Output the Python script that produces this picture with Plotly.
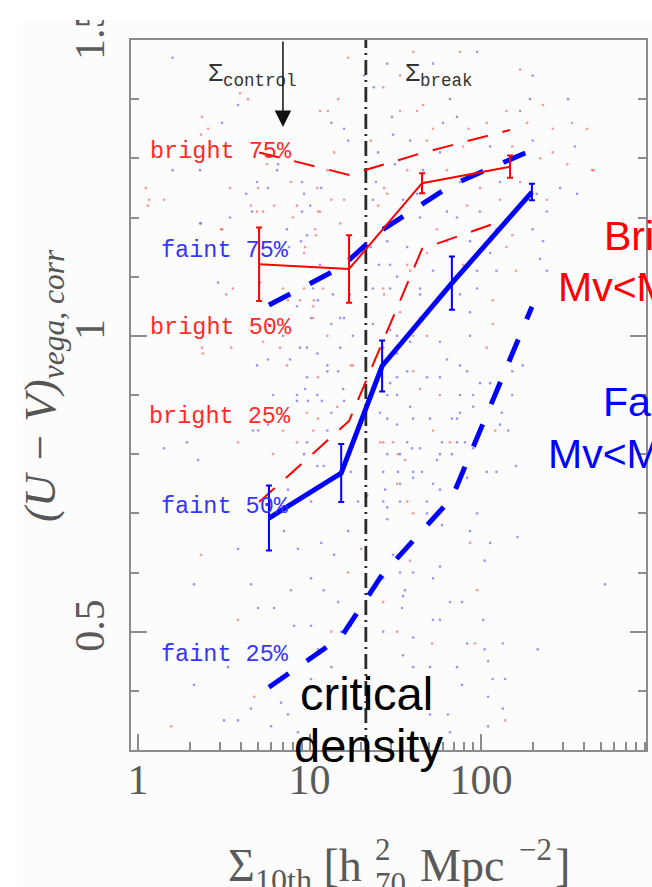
import math
import plotly.graph_objects as go

# ---- median / quartile relations: bright galaxies (red) ----
BRIGHT_SIGMA = [5.08, 17.0, 45.3, 147.6]
BRIGHT_50 = [1.121, 1.113, 1.258, 1.286]
BRIGHT_50_ERR = [0.062, 0.057, 0.017, 0.019]
BRIGHT_75 = [1.310, 1.272, 1.309, 1.348]
BRIGHT_25 = [0.719, 0.856, 1.147, 1.199]

# ---- faint galaxies (blue) ----
FAINT_SIGMA = [5.80, 15.3, 26.5, 67.6, 198.0]
FAINT_50 = [0.692, 0.768, 0.949, 1.089, 1.243]
FAINT_50_ERR = [0.055, 0.049, 0.043, 0.045, 0.014]
FAINT_75 = [1.052, 1.116, 1.179, 1.255, 1.314]
FAINT_25 = [0.406, 0.491, 0.596, 0.726, 1.049]

# characteristic densities
SIGMA_CONTROL = 7.0
SIGMA_CRIT = 21.3

# ---- individual galaxies ----
RED_DOT_SIGMA = [2.33, 2.56, 1.11, 1.16, 1.42, 2.33, 3.05, 5.01, 4.56, 6.21, 7.80, 11.2, 12.8, 14.7, 13.9, 15.9,
                 13.4, 10.9, 9.29, 22.8, 27.2, 25.1, 27.2, 3.26, 9.29, 10.6, 7.49, 17.4, 3.49, 2.39, 2.36, 4.38,
                 3.93, 3.44, 5.65, 11.1, 12.7, 11.5, 1.14, 3.09, 5.36, 8.01, 10.8, 9.41, 8.80, 10.5, 6.73, 2.36,
                 5.36, 3.58, 11.2, 9.66, 8.45, 10.5, 40.2, 75.4, 169, 230, 141, 33.7, 42.4, 45.9, 52.5, 84.6,
                 108, 186, 262, 339, 415, 48.4, 78.6, 152, 221, 262, 318, 444, 37.1, 63.3, 98.6, 169, 242, 28.4,
                 50.4, 83.0, 129, 33.7, 55.3, 94.9, 152, 48.4, 141, 38.6, 78.6, 160, 55.3, 117, 33.7, 117, 40.2,
                 40.2, 108, 16.8, 26.9, 33.7, 453, 4.94, 8.45, 11.5, 15.1, 7.01, 12.0, 10.5, 26.9, 37.1, 12.7,
                 26.9, 48.4, 7.39, 17.9, 44.1, 14.5, 52.5, 7.01, 25.8, 6.13, 17.2, 32.4, 37.1, 3.83, 11.2, 2.33,
                 20.0, 16.8, 3.83, 13.4, 1.56, 4.75, 57.6, 26.9, 30.7, 65.9, 121, 32.8, 36.0, 40.2, 86.3, 38.6,
                 94.9, 26.9, 32.4, 51.8, 92.3, 138]
RED_DOT_UV = [1.34, 1.35, 1.25, 1.23, 1.23, 1.19, 1.18, 1.25, 1.22, 1.22, 1.26, 1.21, 1.38, 1.40, 1.31, 1.23,
              1.23, 1.17, 1.14, 1.33, 1.25, 1.22, 1.07, 1.07, 1.08, 1.06, 1.06, 0.95, 0.98, 0.97, 1.37, 1.40,
              1.41, 1.25, 1.29, 1.25, 1.28, 1.38, 1.22, 1.18, 1.21, 1.20, 1.18, 1.15, 1.06, 1.05, 0.98, 0.98,
              0.99, 1.08, 0.93, 0.87, 0.82, 0.84, 1.48, 1.48, 1.45, 1.39, 1.38, 1.38, 1.38, 1.39, 1.35, 1.35,
              1.36, 1.36, 1.35, 1.36, 1.35, 1.33, 1.32, 1.32, 1.30, 1.31, 1.29, 1.28, 1.28, 1.28, 1.25, 1.26,
              1.23, 1.24, 1.23, 1.22, 1.23, 1.20, 1.18, 1.18, 1.17, 1.14, 1.15, 1.11, 1.12, 1.11, 1.06, 1.06,
              1.04, 1.02, 1.00, 0.94, 0.98, 1.47, 1.42, 1.44, 1.28, 1.21, 1.22, 1.21, 1.19, 1.08, 1.08, 1.03,
              1.08, 1.12, 1.00, 0.98, 1.00, 0.95, 0.95, 0.91, 0.88, 0.84, 0.84, 0.82, 0.80, 0.80, 0.75, 0.72,
              0.82, 0.86, 0.63, 0.64, 0.60, 0.52, 0.50, 0.34, 0.39, 0.90, 0.82, 0.82, 0.82, 0.84, 0.80, 0.79,
              0.70, 0.65, 0.62, 0.57, 0.55, 0.50, 0.48, 0.48, 0.35]

BLUE_DOT_SIGMA = [1.59, 4.27, 5.72, 6.55, 9.29, 13.4, 15.9, 16.8, 11.7, 7.60, 8.92, 20.8, 23.7, 25.1, 24.4, 23.4,
                  26.9, 22.8, 25.4, 23.4, 2.93, 10.2, 13.4, 15.9, 14.7, 5.72, 1.59, 2.30, 4.94, 6.47, 9.05, 2.30,
                  3.44, 4.62, 9.05, 10.1, 11.5, 10.5, 11.2, 5.72, 7.70, 8.80, 11.1, 12.7, 9.41, 8.45, 11.8, 1.93,
                  3.09, 3.83,
                  28.4, 52.5, 94.9, 200, 322, 65.9, 30.3, 60.0, 72.4, 169, 30.7, 38.6, 57.6, 113, 200, 31.5, 45.9,
                  75.4, 129, 211, 289, 363, 35.1, 42.4, 63.3, 98.6, 169, 242, 44.1, 72.4, 123, 200, 230, 28.4,
                  37.1, 63.3, 86.3, 113, 221, 242, 29.5, 52.5, 94.9, 123, 29.5, 44.1, 75.4, 94.9, 44.1, 86.3,
                  29.5, 57.6, 86.3, 32.4, 63.3, 83.0, 32.4, 48.4, 98.6, 152, 175, 353, 193,
                  7.39, 9.66, 5.15, 13.7, 8.45, 15.1, 17.2, 32.4, 44.1, 7.01, 9.66, 15.1, 17.9, 23.4, 32.4, 38.6,
                  4.94, 9.66, 12.7, 15.7, 29.5, 37.1, 57.6, 75.4, 6.13, 8.45, 11.1, 25.8, 32.4, 40.2, 72.4, 90.0,
                  4.68, 9.66, 12.7, 33.7, 44.1, 57.6, 90.0, 129, 152, 113, 8.01, 11.1, 26.9, 40.2, 57.6, 75.4,
                  108, 21.7, 28.4, 48.4,
                  1.42, 2.24, 5.01, 5.72, 9.79, 13.4, 15.9, 9.29, 12.1, 7.49, 10.2, 17.4, 19.2, 3.83, 7.10, 8.56,
                  11.7, 13.9, 16.8, 10.2, 7.80, 12.1, 14.7, 2.12, 4.56, 5.01, 6.21, 8.12, 10.2, 15.3, 17.4, 2.24,
                  11.2, 10.2, 13.4, 15.9, 2.12, 3.35, 6.82, 4.56, 3.17, 3.83, 5.97, 7.49, 8.56,
                  28.4, 32.4, 38.6, 75.4, 90.0, 28.4, 50.4, 67.6, 75.4, 132, 37.1, 72.4, 80.7, 144, 28.4, 39.6,
                  59.2, 67.6, 32.8, 45.3, 55.3, 123, 160, 27.6, 40.2, 33.7, 52.5, 83.0, 26.9, 33.7, 48.4, 94.9,
                  28.4, 59.2, 86.3, 163, 113, 30.7, 33.7, 57.6, 105, 26.9, 33.7, 40.2, 52.5, 36.0, 528, 35.1,
                  65.9, 77.5, 34.6, 52.5, 57.6, 103, 26.9, 40.2, 83.0, 105, 134, 214, 35.1, 40.2, 50.4, 72.4,
                  110, 77.5, 110, 117, 138, 50.4, 64.1, 134, 65.9, 110]
BLUE_DOT_UV = [1.47, 1.24, 1.25, 1.29, 1.24, 1.36, 1.35, 1.33, 1.25, 1.15, 1.16, 1.44, 1.42, 1.31, 1.26, 1.23,
               1.18, 1.15, 1.12, 1.08, 1.09, 1.03, 1.02, 1.03, 0.94, 0.96, 1.28, 1.28, 1.26, 1.28, 1.26, 1.19,
               1.20, 1.21, 1.21, 1.22, 1.12, 1.08, 1.06, 1.02, 0.96, 0.98, 0.97, 0.95, 0.91, 0.90, 0.89, 0.82,
               1.36, 1.39,
               1.46, 1.46, 1.48, 1.44, 1.40, 1.40, 1.37, 1.36, 1.37, 1.38, 1.34, 1.33, 1.31, 1.32, 1.33, 1.29,
               1.28, 1.26, 1.26, 1.24, 1.25, 1.24, 1.23, 1.24, 1.21, 1.21, 1.22, 1.21, 1.20, 1.20, 1.18, 1.18,
               1.16, 1.16, 1.15, 1.16, 1.16, 1.14, 1.13, 1.11, 1.12, 1.11, 1.11, 1.11, 1.08, 1.07, 1.07, 1.08,
               1.03, 1.04, 1.01, 0.99, 1.00, 0.97, 0.96, 0.94, 0.93, 0.93, 0.92, 0.94, 0.95, 1.32, 1.40,
               1.18, 1.17, 1.09, 1.07, 1.05, 1.03, 1.07, 1.10, 1.08, 1.00, 0.98, 0.98, 1.00, 1.02, 1.00, 0.99,
               0.95, 0.93, 0.94, 0.91, 0.92, 0.94, 0.93, 0.95, 0.90, 0.89, 0.90, 0.87, 0.85, 0.86, 0.86, 0.88,
               0.84, 0.82, 0.84, 0.80, 0.81, 0.80, 0.81, 0.85, 0.90, 0.92, 0.77, 0.78, 0.77, 0.76, 0.74, 0.76,
               0.77, 0.73, 0.71, 0.70,
               0.81, 0.79, 0.84, 0.85, 0.89, 0.87, 0.89, 0.80, 0.78, 0.74, 0.72, 0.77, 0.72, 0.64, 0.67, 0.64,
               0.65, 0.63, 0.67, 0.59, 0.57, 0.57, 0.55, 0.58, 0.58, 0.54, 0.54, 0.51, 0.51, 0.50, 0.51, 0.47,
               0.47, 0.42, 0.44, 0.42, 0.41, 0.44, 0.38, 0.37, 0.35, 0.35, 0.34, 0.36, 0.33,
               0.90, 0.90, 0.88, 0.90, 0.90, 0.86, 0.86, 0.86, 0.87, 0.87, 0.82, 0.82, 0.82, 0.84, 0.80, 0.81,
               0.82, 0.80, 0.77, 0.77, 0.79, 0.77, 0.78, 0.74, 0.77, 0.75, 0.75, 0.76, 0.72, 0.72, 0.72, 0.70,
               0.69, 0.68, 0.67, 0.66, 0.65, 0.63, 0.63, 0.61, 0.62, 0.59, 0.60, 0.60, 0.59, 0.57, 0.58, 0.56,
               0.55, 0.55, 0.54, 0.52, 0.52, 0.52, 0.50, 0.49, 0.48, 0.47, 0.48, 0.47, 0.46, 0.44, 0.44, 0.44,
               0.45, 0.41, 0.39, 0.42, 0.42, 0.36, 0.36, 0.37, 0.33, 0.34]

# ---- axis ticks ----
X_TICKS = [1, 10, 100]
X_TICK_TEXT = ["1", "10", "100"]
X_MINOR = [2, 3, 4, 5, 6, 7, 8, 9, 20, 30, 40, 50, 60, 70, 80, 90, 200, 300, 400, 500, 600, 700, 800, 900]
X2_TICKS = [1, 10, 100]
X2_MINOR = [0.3, 0.4, 0.5, 0.6, 0.7, 0.8, 0.9, 2, 3, 4, 5, 6, 7, 8, 9, 20, 30, 40, 50, 60, 70, 80, 90, 200]
Y_TICKS = [0.5, 1.0, 1.5]
Y_TICK_TEXT = ["0.5", "1", "1.5"]
Y_MINOR = [0.4, 0.6, 0.7, 0.8, 0.9, 1.1, 1.2, 1.3, 1.4]

RED = "#ff0000"
BLUE = "#0000ff"
AX = "#8c8c8c"
TICKFONT = dict(family="Liberation Serif", size=42, color="#5a5a5a")
LABEL_FONT = "Liberation Mono"

# plot-area geometry in pixels
L, R, T, B = 131, 646, 40, 750
W, H = 652, 887


def px_x(p):
    return (p - L) / (R - L)


def px_y(p):
    return (B - p) / (B - T)


fig = go.Figure()

# galaxies
fig.add_trace(go.Scatter(x=RED_DOT_SIGMA, y=RED_DOT_UV, mode="markers",
                         marker=dict(size=2.6, color="rgba(255,50,50,0.5)", line=dict(width=0)),
                         hoverinfo="skip"))
fig.add_trace(go.Scatter(x=BLUE_DOT_SIGMA, y=BLUE_DOT_UV, mode="markers",
                         marker=dict(size=2.6, color="rgba(50,50,255,0.5)", line=dict(width=0)),
                         hoverinfo="skip"))

# critical density
fig.add_trace(go.Scatter(x=[SIGMA_CRIT, SIGMA_CRIT], y=[0.3, 1.5], mode="lines",
                         line=dict(color="#2a2a2a", width=2.8, dash="15px,5px,2px,5px"),
                         hoverinfo="skip"))

# quartile lines
for ys in (FAINT_75, FAINT_25):
    fig.add_trace(go.Scatter(x=FAINT_SIGMA, y=ys, mode="lines",
                             line=dict(color=BLUE, width=5, dash="24px,22px"), hoverinfo="skip"))
for ys in (BRIGHT_75, BRIGHT_25):
    fig.add_trace(go.Scatter(x=BRIGHT_SIGMA, y=ys, mode="lines",
                             line=dict(color=RED, width=2, dash="21px,15px"), hoverinfo="skip"))

# medians with errors
fig.add_trace(go.Scatter(x=BRIGHT_SIGMA, y=BRIGHT_50, mode="lines",
                         line=dict(color=RED, width=2),
                         error_y=dict(type="data", array=BRIGHT_50_ERR, color=RED, thickness=2, width=3),
                         hoverinfo="skip"))
fig.add_trace(go.Scatter(x=FAINT_SIGMA, y=FAINT_50, mode="lines",
                         line=dict(color=BLUE, width=5),
                         error_y=dict(type="data", array=FAINT_50_ERR, color=BLUE, thickness=2, width=3),
                         hoverinfo="skip"))

annotations = []


def label(text, x, y, color, size=23.5, family=LABEL_FONT, xanchor="left", yanchor="middle", angle=0):
    annotations.append(dict(text=text, x=x, y=y, xref="paper", yref="paper", showarrow=False,
                            xanchor=xanchor, yanchor=yanchor, textangle=angle,
                            font=dict(family=family, size=size, color=color)))


# curve labels
label("bright 75%", px_x(148), px_y(151), "#ff2a2a")
label("faint 75%", px_x(159), px_y(250), "#3535ff")
label("bright 50%", px_x(148), px_y(327), "#ff2a2a")
label("bright 25%", px_x(147), px_y(416), "#ff2a2a")
label("faint 50%", px_x(159), px_y(506), "#3535ff")
label("faint 25%", px_x(159), px_y(654), "#3535ff")

# density markers
label("Σ<sub>control</sub>", px_x(206), px_y(58), "#333333", size=25, yanchor="top")
label("Σ<sub>break</sub>", px_x(403), px_y(58), "#333333", size=25, yanchor="top")
annotations.append(dict(x=math.log10(SIGMA_CONTROL), y=1.353, xref="x", yref="y",
                        ax=math.log10(SIGMA_CONTROL), ay=1.5, axref="x", ayref="y",
                        text="", showarrow=True, arrowhead=2, arrowsize=2.2, arrowwidth=1.5,
                        arrowcolor="#111111", standoff=0, startstandoff=0))

# critical density text
label("critical", px_x(366), px_y(665), "#000000", size=47, family="Liberation Sans",
      xanchor="center", yanchor="top")
label("density", px_x(368), px_y(717), "#000000", size=47, family="Liberation Sans",
      xanchor="center", yanchor="top")

# sample descriptions on the right
label("Bright", px_x(602), px_y(211), RED, size=41, family="Liberation Sans", yanchor="top")
label("Mv&lt;M*", px_x(556), px_y(262), RED, size=41, family="Liberation Sans", yanchor="top")
label("Faint", px_x(601), px_y(377), BLUE, size=41, family="Liberation Sans", yanchor="top")
label("Mv&lt;M*", px_x(546), px_y(429), BLUE, size=41, family="Liberation Sans", yanchor="top")

# axis titles
label("<i>(U − V)</i><sub><i>vega, corr</i></sub>", px_x(43), px_y(386), "#555555", size=45,
      family="Liberation Serif", xanchor="center", yanchor="middle", angle=-90)
label("Σ<sub>10th</sub> [h", px_x(226), px_y(838), "#5a5a5a", size=46, family="Liberation Serif",
      yanchor="top")
label("2", px_x(373), px_y(830), "#5a5a5a", size=31, family="Liberation Serif", yanchor="top")
label("70", px_x(373), px_y(864), "#5a5a5a", size=31, family="Liberation Serif", yanchor="top")
label("Mpc", px_x(418), px_y(838), "#5a5a5a", size=46, family="Liberation Serif", yanchor="top")
label("−2", px_x(517), px_y(830), "#5a5a5a", size=31, family="Liberation Serif", yanchor="top")
label("]", px_x(553), px_y(838), "#5a5a5a", size=46, family="Liberation Serif", yanchor="top")

shapes = [
    # panel background
    dict(type="rect", xref="paper", yref="paper", x0=px_x(23), x1=px_x(W + 5), y0=px_y(H + 5), y1=px_y(20),
         fillcolor="#fcfcfc", line=dict(width=0), layer="below"),
    # white strip above the panel
    dict(type="rect", xref="paper", yref="paper", x0=px_x(-10), x1=px_x(W + 5), y0=px_y(20), y1=px_y(-5),
         fillcolor="#ffffff", line=dict(width=0), layer="above"),
]

axis_common = dict(showgrid=False, zeroline=False, ticks="inside", ticklen=16, tickwidth=2, tickcolor=AX)

fig.update_layout(
    width=W, height=H,
    margin=dict(l=L, r=W - R, t=T, b=H - B, pad=0),
    paper_bgcolor="#ffffff", plot_bgcolor="#fcfcfc",
    showlegend=False,
    xaxis=dict(type="log", range=[math.log10(0.91), math.log10(916)],
               tickmode="array", tickvals=X_TICKS, ticktext=X_TICK_TEXT,
               minor=dict(tickmode="array", tickvals=X_MINOR, ticks="inside", ticklen=8,
                          tickwidth=2, tickcolor=AX),
               showline=True, linewidth=2, linecolor=AX, mirror=True,
               tickfont=TICKFONT, ticklabelstandoff=-8, automargin=False, **axis_common),
    xaxis2=dict(type="log", range=[math.log10(0.2683), math.log10(270.1)],
                overlaying="x", side="top", anchor="y",
                tickmode="array", tickvals=X2_TICKS, showticklabels=False,
                minor=dict(tickmode="array", tickvals=X2_MINOR, ticks="inside", ticklen=8,
                           tickwidth=2, tickcolor=AX),
                showline=False, automargin=False, **axis_common),
    yaxis=dict(range=[0.3, 1.5], tickmode="array", tickvals=Y_TICKS, ticktext=Y_TICK_TEXT,
               minor=dict(tickmode="array", tickvals=Y_MINOR, ticks="inside", ticklen=8,
                          tickwidth=2, tickcolor=AX),
               tickangle=-90, showline=True, linewidth=2, linecolor=AX, mirror="ticks",
               tickfont=TICKFONT, ticklabelstandoff=8, automargin=False, **axis_common),
    annotations=annotations,
    shapes=shapes,
)

fig.write_html("out.html", config={"displayModeBar": False})
